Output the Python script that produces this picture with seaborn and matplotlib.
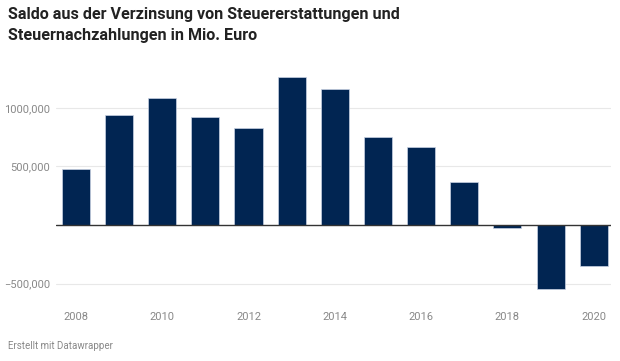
"""Saldo aus der Verzinsung von Steuererstattungen und Steuernachzahlungen."""
import matplotlib
matplotlib.use("Agg")
import matplotlib.pyplot as plt
import pandas as pd
import seaborn as sns

years = [2008, 2009, 2010, 2011, 2012, 2013, 2014, 2015, 2016, 2017, 2018, 2019, 2020]
saldo = [481000, 942000, 1086000, 922000, 826000, 1267000, 1165000, 747000, 668000, 363000, -25000, -549000, -349000]
tick_years = [2008, 2010, 2012, 2014, 2016, 2018, 2020]
y_ticks = [-500000, 500000, 1000000]
y_labels = ["\u2212500,000", "500,000", "1000,000"]

TITLE = "Saldo aus der Verzinsung von Steuererstattungen und\nSteuernachzahlungen in Mio. Euro"
FOOTER = "Erstellt mit Datawrapper"


def main() -> None:
    sns.set_theme(style="white")
    plt.rcParams["font.family"] = ["Roboto", "DejaVu Sans"]
    data = pd.DataFrame({"year": years, "saldo": saldo})

    fig = plt.figure(figsize=(6.2, 3.61), dpi=100)
    ax = fig.add_axes([56 / 620, 1 - 300 / 361, (611 - 56) / 620, (300 - 68) / 361])
    sns.barplot(data=data, x="year", y="saldo", order=years, color="#012552", width=0.65,
                edgecolor="#c9d2e3", linewidth=0.5, saturation=1, ax=ax)

    ax.set_xlim(-0.46, 12.4)
    ax.set_ylim(-640000, 1340000)
    for t in y_ticks:
        ax.axhline(t, color="#e8e8e8", linewidth=0.8, zorder=0)
    ax.axhline(0, color="#333333", linewidth=1, zorder=3)

    ax.set_yticks(y_ticks)
    ax.set_yticklabels(y_labels)
    ax.set_xticks([years.index(y) for y in tick_years])
    ax.set_xticklabels([str(y) for y in tick_years])
    ax.tick_params(axis="both", length=0, labelsize=8, labelcolor="#888888")
    ax.tick_params(axis="x", pad=9)
    ax.tick_params(axis="y", pad=4)
    ax.set(xlabel="", ylabel="")
    for side in ax.spines.values():
        side.set_visible(False)

    fig.text(8 / 620, 1 - 7 / 361, TITLE, ha="left", va="top", fontsize=11.6,
             fontweight="bold", color="#222222", linespacing=1.5)
    fig.text(8 / 620, 1 - 346 / 361, FOOTER, ha="left", va="center", fontsize=7,
             color="#888888")
    fig.savefig("out.png", dpi=100)
    plt.close(fig)


if __name__ == "__main__":
    main()
